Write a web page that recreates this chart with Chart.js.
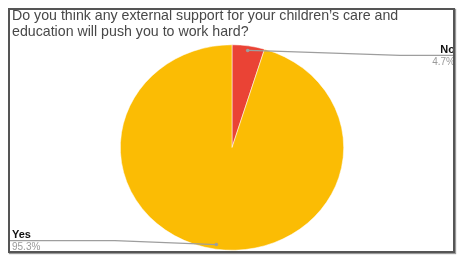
<!DOCTYPE html>
<html>
<head>
<meta charset="utf-8">
<script src="https://cdn.jsdelivr.net/npm/chart.js@4.4.0/dist/chart.umd.min.js"></script>
<style>
  html, body { margin:0; padding:0; background:#fff; width:463px; height:267px; overflow:hidden; }
  #wrap { position:relative; width:463px; height:267px; }
  #c { position:absolute; left:0; top:0; }
  #frame { position:absolute; left:8px; top:8px; width:443px; height:241px; border:2px solid #555; box-shadow:1px 1px 1px #999; pointer-events:none; z-index:3; }
  #title { position:absolute; left:12px; top:8px; font-family:"Liberation Sans", Arial, sans-serif; font-size:14.2px; line-height:15.5px; color:#484848; z-index:2; white-space:nowrap; }
</style>
</head>
<body>
<div id="wrap">
  <canvas id="c" width="463" height="267"></canvas>
  <div id="title">Do you think any external support for your children’s care and<br>education will push you to work hard?</div>
  <div id="frame"></div>
</div>
<script>
const categories = ["No", "Yes"];
const values = [4.7, 95.3];
const percentLabels = ["4.7%", "95.3%"];
const colors = ["#EA4335", "#FBBC04"];

const STRETCH = 1.087;

const stretchPlugin = {
  id: 'stretch',
  beforeDatasetsDraw(chart) {
    const meta = chart.getDatasetMeta(0);
    const cx = meta.data[0].x;
    const ctx = chart.ctx;
    ctx.save();
    ctx.translate(cx, 0);
    ctx.scale(STRETCH, 1);
    ctx.translate(-cx, 0);
  },
  afterDatasetsDraw(chart) {
    chart.ctx.restore();
  }
};

const labelPlugin = {
  id: 'labels',
  afterDraw(chart) {
    const ctx = chart.ctx;
    const meta = chart.getDatasetMeta(0);
    meta.data.forEach((arc, i) => {
      const mid = (arc.startAngle + arc.endAngle) / 2;
      const r = arc.outerRadius * 0.955;
      const px = arc.x + Math.cos(mid) * r * STRETCH;
      const py = arc.y + Math.sin(mid) * r;
      const right = Math.cos(mid) >= 0;
      ctx.save();
      ctx.strokeStyle = '#9e9e9e';
      ctx.lineWidth = 1.2;
      ctx.beginPath();
      ctx.moveTo(px, py);
      let ly;
      if (right) {
        ly = py + 5;
        ctx.lineTo(px + 18, py + 0.5);
        ctx.lineTo(400, ly);
        ctx.lineTo(456, ly);
      } else {
        ly = py - 4;
        ctx.lineTo(115, ly);
        ctx.lineTo(9, ly);
      }
      ctx.stroke();
      ctx.fillStyle = '#9e9e9e';
      ctx.beginPath();
      ctx.arc(px, py, 1.8, 0, Math.PI * 2);
      ctx.fill();
      ctx.font = 'bold 11px "Liberation Sans", Arial, sans-serif';
      ctx.fillStyle = '#111';
      ctx.textBaseline = 'alphabetic';
      ctx.textAlign = right ? 'right' : 'left';
      const tx = right ? 455 : 12;
      ctx.fillText(categories[i], tx, ly - 2.5);
      ctx.font = '10px "Liberation Sans", Arial, sans-serif';
      ctx.fillStyle = '#9a9a9a';
      ctx.fillText(percentLabels[i], tx, ly + 9.5);
      ctx.restore();
    });
  }
};

new Chart(document.getElementById('c'), {
  type: 'pie',
  data: {
    labels: categories,
    datasets: [{
      data: values,
      backgroundColor: colors,
      borderColor: '#ffffff',
      borderWidth: 0.5,
      hoverOffset: 0
    }]
  },
  options: {
    responsive: false,
    animation: false,
    events: [],
    layout: { padding: { top: 44, bottom: 16, left: 129, right: 128 } },
    plugins: {
      legend: { display: false },
      title: { display: false },
      tooltip: { enabled: false }
    }
  },
  plugins: [stretchPlugin, labelPlugin]
});
</script>
</body>
</html>
